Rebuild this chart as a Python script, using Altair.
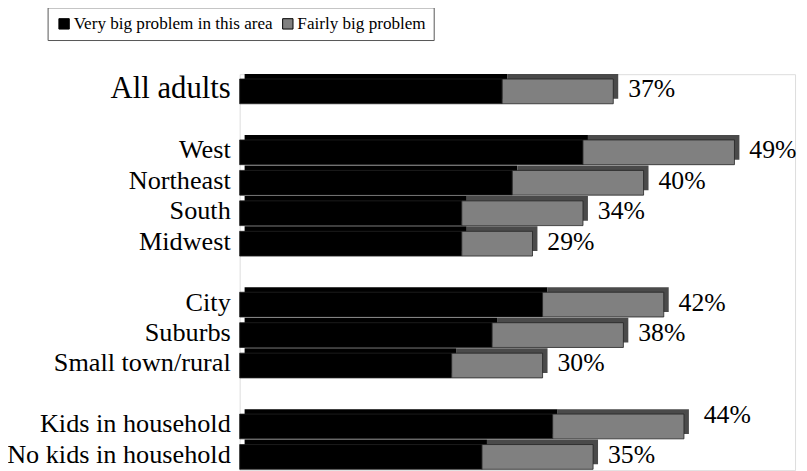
import altair as alt
import pandas as pd

categories = ["All adults", "West", "Northeast", "South", "Midwest",
              "City", "Suburbs", "Small town/rural",
              "Kids in household", "No kids in household"]
very_big = [26, 34, 27, 22, 22, 30, 25, 21, 31, 24]
fairly_big = [11, 15, 13, 12, 7, 12, 13, 9, 13, 11]
totals = [37, 49, 40, 34, 29, 42, 38, 30, 44, 35]
series_names = ["Very big problem in this area", "Fairly big problem"]
series_colors = ["#000000", "#808080"]
row_order = ["All adults", "gap1", "West", "Northeast", "South", "Midwest", "gap2",
             "City", "Suburbs", "Small town/rural", "gap3",
             "Kids in household", "No kids in household"]

rows = []
for c, v, f in zip(categories, very_big, fairly_big):
    rows.append({"cat": c, "series": series_names[0], "start": 0, "end": v})
    rows.append({"cat": c, "series": series_names[1], "start": v, "end": v + f})
seg = pd.DataFrame(rows)
tot = pd.DataFrame({"cat": categories, "total": totals,
                    "label": [f"{t}%" for t in totals]})

FONT = "Liberation Serif"
y_enc = alt.Y("cat:N", scale=alt.Scale(domain=row_order, paddingInner=0, paddingOuter=0), axis=None)
x_scale = alt.Scale(domain=[0, 55])

shadow = alt.Chart(seg).mark_bar(size=25, xOffset=5, x2Offset=5, yOffset=-3).encode(
    x=alt.X("start:Q", scale=x_scale, axis=None),
    x2="end:Q",
    y=y_enc,
    color=alt.condition(alt.datum.series == series_names[0],
                        alt.value("#000000"), alt.value("#4a4a4a")),
)

front = alt.Chart(seg).mark_bar(size=25, yOffset=2, stroke="#222222", strokeWidth=0.8).encode(
    x=alt.X("start:Q", scale=x_scale, axis=None),
    x2="end:Q",
    y=y_enc,
    color=alt.Color("series:N",
                    scale=alt.Scale(domain=series_names, range=series_colors),
                    legend=alt.Legend(title=None, orient="none", legendX=-194, legendY=-67.5,
                                      direction="horizontal", symbolType="square",
                                      symbolSize=110, symbolStrokeColor="#000000",
                                      symbolStrokeWidth=1, labelFont=FONT, labelFontSize=17.3,
                                      labelOffset=1, labelColor="#000000", fillColor="white",
                                      strokeColor="#555555", padding=8,
                                      columnPadding=6, labelLimit=400)),
)

pct_base = alt.Chart(tot).encode(
    x=alt.X("total:Q", scale=x_scale),
    y=y_enc,
    text="label:N",
)
pct = pct_base.mark_text(align="left", baseline="middle", dx=15, dy=0,
                         font=FONT, fontSize=26, color="#000000").transform_filter(
    alt.datum.cat != "Kids in household")
pct_kids = pct_base.mark_text(align="left", baseline="middle", dx=20, dy=-9,
                              font=FONT, fontSize=26, color="#000000").transform_filter(
    alt.datum.cat == "Kids in household")

cats = alt.Chart(tot).mark_text(align="right", baseline="middle", dx=-9, dy=0,
                                font=FONT, color="#000000").encode(
    x=alt.value(0),
    y=y_enc,
    text="cat:N",
    size=alt.condition(alt.datum.cat == "All adults", alt.value(31), alt.value(26.5)),
)

chart = alt.layer(shadow, front, pct, pct_kids, cats).properties(
    width=561, height=400,
    autosize=alt.AutoSizeParams(type="none"),
    padding={"left": 234, "top": 64.5, "right": 4, "bottom": 0},
).configure_view(stroke=None).configure(background="white")

chart.save("out.html", embed_options={"renderer": "svg", "actions": False})
